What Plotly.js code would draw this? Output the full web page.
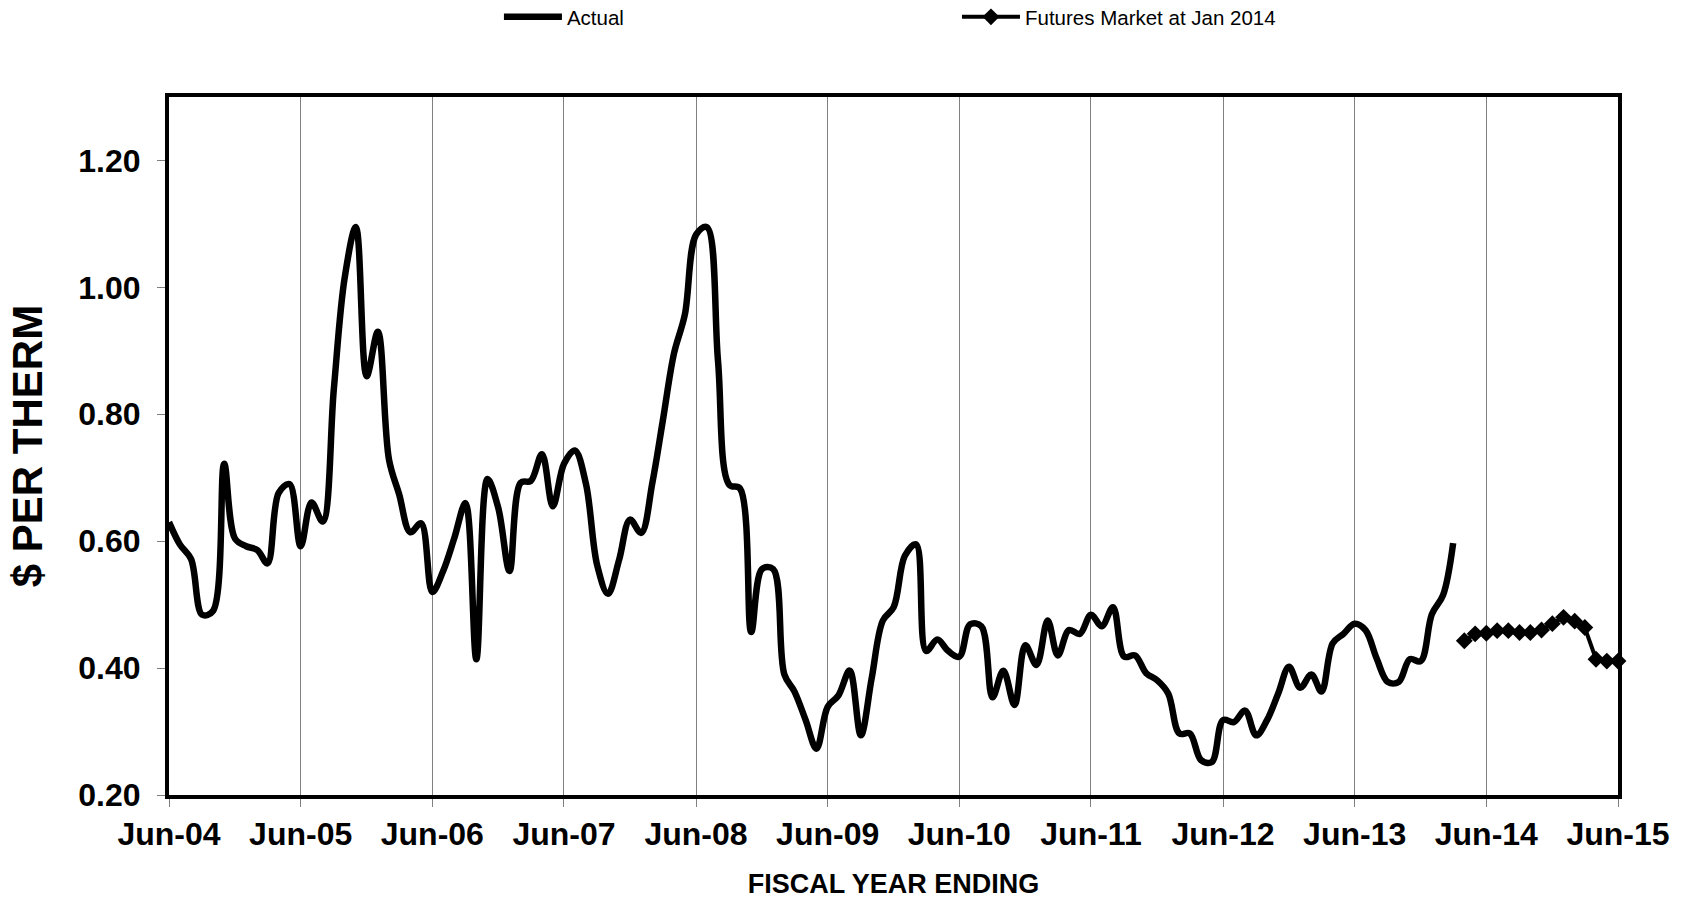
<!DOCTYPE html>
<html>
<head>
<meta charset="utf-8">
<script src="https://cdn.plot.ly/plotly-3.0.1.min.js"></script>
<style>html,body{margin:0;padding:0;background:#fff;}#chart{width:1686px;height:899px;}</style>
</head>
<body>
<div id="chart"></div>
<script>
// Monthly actual price, $ per therm, Jun-2004 .. Mar-2014
const actualStart = [2004, 6];
const actualValues = [
  0.630, 0.595, 0.572, 0.484, 0.490, 0.722, 0.604, 0.592, 0.586, 0.565, 0.676, 0.690,
  0.592, 0.661, 0.631, 0.840, 1.015, 1.095, 0.860, 0.930, 0.728, 0.674, 0.614, 0.628,
  0.520, 0.553, 0.605, 0.660, 0.414, 0.698, 0.652, 0.553, 0.692, 0.695, 0.737, 0.655,
  0.722, 0.743, 0.690, 0.562, 0.517, 0.571, 0.634, 0.613, 0.692, 0.790, 0.896, 0.957,
  1.083, 1.095, 0.884, 0.689, 0.683, 0.457, 0.556, 0.556, 0.390, 0.363, 0.318, 0.273,
  0.339, 0.357, 0.396, 0.294, 0.384, 0.475, 0.496, 0.577, 0.595, 0.427, 0.445, 0.427,
  0.418, 0.469, 0.466, 0.354, 0.396, 0.342, 0.436, 0.405, 0.475, 0.420, 0.460, 0.454,
  0.484, 0.466, 0.496, 0.418, 0.420, 0.392, 0.381, 0.360, 0.297, 0.297, 0.255, 0.252,
  0.318, 0.315, 0.333, 0.294, 0.318, 0.360, 0.402, 0.369, 0.390, 0.363, 0.439, 0.454,
  0.470, 0.460, 0.415, 0.378, 0.378, 0.414, 0.411, 0.485, 0.515, 0.597
];
// Futures market at Jan 2014, Apr-2014 .. Jun-2015
const futuresStart = [2014, 4];
const futuresValues = [
  0.443, 0.454, 0.455, 0.459, 0.459, 0.456, 0.456, 0.460, 0.470, 0.480, 0.474, 0.464,
  0.414, 0.411, 0.411
];
const yTickValues = [0.20, 0.40, 0.60, 0.80, 1.00, 1.20];
const xTickDates = ['2004-06-01','2005-06-01','2006-06-01','2007-06-01','2008-06-01','2009-06-01',
                    '2010-06-01','2011-06-01','2012-06-01','2013-06-01','2014-06-01','2015-06-01'];
const xTickLabels = ['Jun-04','Jun-05','Jun-06','Jun-07','Jun-08','Jun-09',
                     'Jun-10','Jun-11','Jun-12','Jun-13','Jun-14','Jun-15'];

function monthDates(start, n) {
  const out = [];
  let y = start[0], m = start[1];
  for (let i = 0; i < n; i++) {
    out.push(y + '-' + String(m).padStart(2, '0') + '-01');
    m++; if (m > 12) { m = 1; y++; }
  }
  return out;
}

const FONT = 'Liberation Sans, Arial, Helvetica, sans-serif';

const traces = [
  {
    type: 'scatter', mode: 'lines', name: 'Actual',
    x: monthDates(actualStart, actualValues.length), y: actualValues,
    line: {color: '#000', width: 6.5, shape: 'spline', smoothing: 1},
    legend: 'legend'
  },
  {
    type: 'scatter', mode: 'lines+markers', name: 'Futures Market at Jan 2014',
    x: monthDates(futuresStart, futuresValues.length), y: futuresValues,
    line: {color: '#000', width: 4},
    marker: {symbol: 'diamond', size: 13, color: '#000'},
    cliponaxis: false,
    legend: 'legend2'
  }
];

const layout = {
  width: 1686, height: 899,
  margin: {l: 169, r: 68, t: 97, b: 104, autoexpand: false},
  paper_bgcolor: '#fff', plot_bgcolor: '#fff',
  font: {family: FONT, color: '#000'},
  xaxis: {
    type: 'date',
    range: ['2004-06-01', '2015-06-01'],
    tickvals: xTickDates, ticktext: xTickLabels,
    showgrid: true, gridcolor: '#808080', gridwidth: 1,
    showline: true, linecolor: '#000', linewidth: 4, mirror: true,
    ticks: 'outside', ticklen: 8, tickcolor: '#808080', tickwidth: 1,
    tickfont: {family: FONT, size: 32, weight: 700, color: '#000'},
    zeroline: false,
    title: {text: 'FISCAL YEAR ENDING', font: {family: FONT, size: 27, weight: 700, color: '#000'}, standoff: 26}
  },
  yaxis: {
    range: [0.2, 1.3],
    tickvals: yTickValues, tickformat: '.2f',
    showgrid: false,
    showline: true, linecolor: '#000', linewidth: 4, mirror: true,
    ticks: 'outside', ticklen: 8, tickcolor: '#808080', tickwidth: 1,
    ticklabelstandoff: 10,
    tickfont: {family: FONT, size: 32, weight: 700, color: '#000'},
    zeroline: false,
    title: {text: '$ PER THERM', font: {family: FONT, size: 42, weight: 700, color: '#000'}, standoff: 24}
  },
  legend: {
    x: 0.2277, y: 1.1146, xanchor: 'left', yanchor: 'middle',
    orientation: 'h', bgcolor: 'rgba(0,0,0,0)', itemwidth: 58,
    font: {family: FONT, size: 20.5, color: '#000'}
  },
  legend2: {
    x: 0.5438, y: 1.1146, xanchor: 'left', yanchor: 'middle',
    orientation: 'h', bgcolor: 'rgba(0,0,0,0)', itemwidth: 58,
    font: {family: FONT, size: 20.5, color: '#000'}
  },
  showlegend: true
};

Plotly.newPlot('chart', traces, layout, {displayModeBar: false, staticPlot: true});
</script>
</body>
</html>
